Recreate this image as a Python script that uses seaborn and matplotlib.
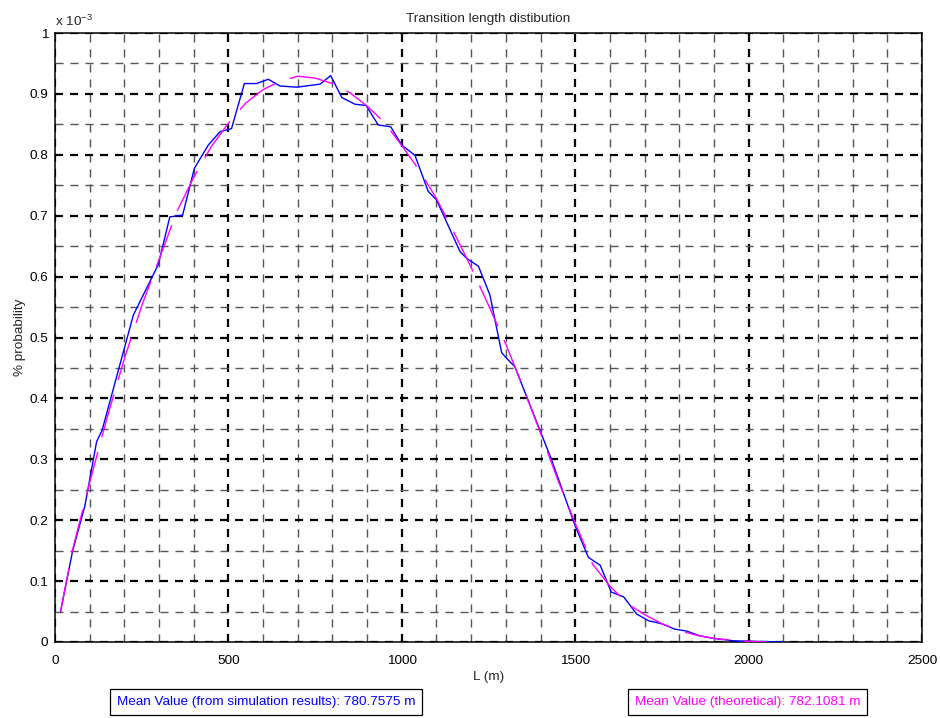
import matplotlib
matplotlib.use("Agg")
import matplotlib.pyplot as plt
import pandas as pd
import seaborn as sns
from matplotlib.ticker import MultipleLocator

# Simulated transition lengths (m) and their probability (units of 1e-3)
sim_length = [16, 51, 86, 120, 136, 226, 298, 331, 368, 402, 442, 476, 509,
              546, 581, 615, 649, 697, 764, 795, 827, 865, 897, 932, 968,
              1000, 1038, 1076, 1100, 1168, 1187, 1221, 1254, 1288, 1302,
              1326, 1432, 1499, 1538, 1572, 1604, 1640, 1677, 1711, 1749,
              1788, 1821, 1860, 1898, 1956, 2100]
sim_prob = [0.050, 0.150, 0.223, 0.329, 0.348, 0.537, 0.620, 0.698, 0.701,
            0.778, 0.816, 0.838, 0.843, 0.917, 0.917, 0.924, 0.913, 0.911,
            0.916, 0.930, 0.894, 0.883, 0.881, 0.849, 0.846, 0.816, 0.799,
            0.740, 0.726, 0.641, 0.630, 0.617, 0.570, 0.475, 0.466, 0.452,
            0.299, 0.192, 0.139, 0.126, 0.082, 0.074, 0.046, 0.035, 0.030,
            0.021, 0.018, 0.010, 0.006, 0.002, 0.000]

# Theoretical distribution (units of 1e-3)
theory_length = [16, 50, 100, 150, 200, 250, 300, 350, 400, 450, 500, 550,
                 600, 650, 700, 750, 800, 850, 900, 950, 1000, 1050, 1100,
                 1150, 1200, 1250, 1300, 1350, 1400, 1450, 1500, 1550, 1600,
                 1650, 1700, 1750, 1800, 1850, 1900, 1950, 2000, 2052]
theory_prob = [0.050, 0.150, 0.262, 0.368, 0.465, 0.552, 0.628, 0.705,
               0.763, 0.813, 0.852, 0.885, 0.907, 0.921, 0.929, 0.926,
               0.917, 0.902, 0.880, 0.853, 0.815, 0.775, 0.728, 0.673,
               0.615, 0.553, 0.489, 0.418, 0.343, 0.266, 0.195, 0.128,
               0.092, 0.063, 0.045, 0.030, 0.019, 0.011, 0.006, 0.003,
               0.001, 0.000]

x_ticks = [0, 500, 1000, 1500, 2000, 2500]
y_ticks = [0, 0.1, 0.2, 0.3, 0.4, 0.5, 0.6, 0.7, 0.8, 0.9, 1.0]
y_tick_labels = ["0", "0.1", "0.2", "0.3", "0.4", "0.5", "0.6", "0.7",
                 "0.8", "0.9", "1"]

title_text = "Transition length distibution"
x_label = "L (m)"
y_label = "% probability"
sim_note = "Mean Value (from simulation results): 780.7575 m"
theory_note = "Mean Value (theoretical): 782.1081 m"

sns.set_style("white")
plt.rcParams["font.family"] = ["Liberation Sans", "DejaVu Sans"]
plt.rcParams["mathtext.default"] = "regular"
plt.rcParams["lines.scale_dashes"] = False

fs = 9.7
fig = plt.figure(figsize=(9.4, 7.18), dpi=100)
ax = fig.add_axes([55 / 940, 1 - 642 / 718, 867 / 940, 609 / 718])

sim_df = pd.DataFrame({"L": sim_length, "p": sim_prob})
theory_df = pd.DataFrame({"L": theory_length, "p": theory_prob})

sns.lineplot(data=sim_df, x="L", y="p", ax=ax, color="#0000ff", lw=1.0,
             sort=False, estimator=None, zorder=3)
sns.lineplot(data=theory_df, x="L", y="p", ax=ax, color="#ff00ff", lw=1.0,
             sort=False, estimator=None, zorder=4)
ax.lines[-1].set_dashes((32, 11))

ax.set_xlim(0, 2500)
ax.set_ylim(0, 1.0)
ax.set_xticks(x_ticks)
ax.set_yticks(y_ticks)
ax.set_yticklabels(y_tick_labels)
ax.xaxis.set_minor_locator(MultipleLocator(100))
ax.yaxis.set_minor_locator(MultipleLocator(0.05))

ax.grid(which="major", color="black", lw=1.6, ls=(0, (5.8, 5.0)), zorder=1)
ax.grid(which="minor", color="#555555", lw=1.0, ls=(0, (5.8, 5.0)), zorder=1)
ax.set_axisbelow(True)

ax.tick_params(which="both", length=0, labelsize=fs, colors="black")
ax.tick_params(axis="x", pad=9)
ax.tick_params(axis="y", pad=5)
for s in ax.spines.values():
    s.set_visible(True)
    s.set_color("black")
    s.set_linewidth(1.1)

ax.set_title(title_text, fontsize=fs, pad=8)
ax.set_xlabel(x_label, fontsize=fs, labelpad=3)
ax.set_ylabel(y_label, fontsize=fs, labelpad=2)

fig.text(55 / 940, 1 - 26 / 718, r"x 10$^{-3}$", fontsize=fs,
         ha="left", va="baseline")

fig.text(266 / 940, 1 - 702 / 718, sim_note, fontsize=fs, color="#0000ff",
         ha="center", va="center",
         bbox=dict(boxstyle="square,pad=0.5", fc="white", ec="black",
                   lw=0.9))
fig.text(747.5 / 940, 1 - 702 / 718, theory_note, fontsize=fs,
         color="#ff00ff", ha="center", va="center",
         bbox=dict(boxstyle="square,pad=0.5", fc="white", ec="black",
                   lw=0.9))

fig.savefig("out.png", dpi=100)
